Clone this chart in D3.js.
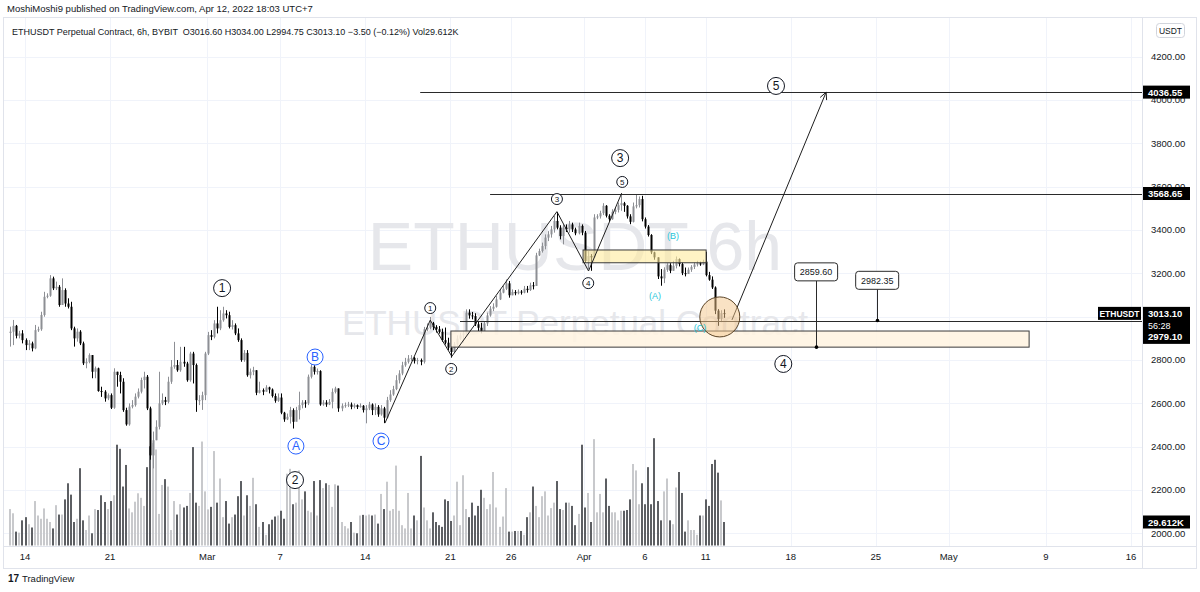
<!DOCTYPE html>
<html><head><meta charset="utf-8">
<script src="https://cdn.jsdelivr.net/npm/d3@7"></script>
<style>
html,body{margin:0;padding:0;background:#fff;}
svg{display:block;font-family:"Liberation Sans",Arial,sans-serif;}
</style></head><body>
<svg id="c" width="1200" height="592"></svg>
<script>
// ---------------- DATA ----------------
const firstOpen = 2925;
const closes = [2931,2958,2912,2923,2892,2869,2877,2854,2938,2942,
3008,3092,3097,3177,3131,3138,3054,3123,3061,3046,
2946,2900,2931,2877,2785,2792,2823,2746,2762,2657,
2654,2623,2638,2580,2746,2731,2700,2569,2503,2585,
2592,2631,2654,2708,2723,2577,2360,2430,2492,2600,
2615,2607,2700,2769,2777,2753,2792,2784,2707,2830,
2777,2615,2615,2638,2830,2915,2907,2969,2946,2984,
3015,3007,2953,2961,2923,2892,2800,2833,2730,2746,
2753,2649,2661,2654,2674,2664,2634,2612,2627,2557,
2526,2538,2569,2515,2569,2592,2604,2600,2723,2769,
2746,2749,2595,2604,2595,2607,2653,2669,2577,2589,
2592,2595,2584,2592,2583,2589,2569,2577,2595,2569,
2584,2549,2577,2534,2615,2641,2666,2707,2738,2776,
2792,2807,2810,2795,2800,2792,2942,2949,2969,2953,
2942,2930,2892,2880,2857,2837,2873,2899,2914,2923,
3019,3006,3003,2965,2949,2934,2969,3006,3037,3046,
3080,3111,3129,3154,3099,3114,3108,3116,3111,3129,
3123,3145,3142,3283,3303,3326,3365,3380,3403,3442,
3411,3372,3411,3403,3426,3403,3385,3419,3388,3257,
3280,3274,3458,3463,3478,3512,3466,3450,3484,3493,
3515,3524,3512,3463,3438,3509,3515,3543,3450,3416,
3377,3297,3274,3186,3177,3217,3238,3212,3235,3266,
3243,3201,3197,3217,3230,3241,3247,3241,3254,3192,
3171,3135,3028,2989,3016.6,3013.1];
const highs = [2954,2985,2962,2935,2938,2900,2892,2885,2962,2954,
3023,3115,3108,3192,3185,3162,3146,3177,3131,3085,
3069,2954,2946,2938,2885,2808,2831,2823,2770,2765,
2677,2661,2646,2646,2762,2746,2746,2716,2580,2600,
2615,2646,2669,2719,2746,2731,2585,2470,2522,2746,
2646,2630,2723,2800,2884,2800,2861,2861,2792,2838,
2838,2784,2638,2654,2838,2930,2938,2984,3046,3030,
3046,3030,3023,2984,2969,2946,2900,2846,2846,2761,
2769,2753,2700,2669,2684,2677,2669,2646,2646,2646,
2561,2553,2584,2577,2584,2654,2615,2615,2733,2784,
2776,2761,2753,2615,2615,2620,2669,2677,2669,2600,
2604,2607,2604,2600,2595,2600,2592,2592,2607,2600,
2600,2592,2592,2584,2630,2661,2681,2730,2753,2792,
2810,2823,2823,2815,2810,2807,2953,2969,2999,2976,
2961,2957,2945,2950,2903,2865,2883,2914,2926,2934,
3034,3034,3022,3016,2976,2972,2980,3019,3049,3062,
3096,3126,3142,3172,3165,3126,3123,3126,3123,3142,
3142,3157,3160,3295,3314,3342,3380,3395,3419,3465,
3483,3422,3426,3426,3442,3434,3411,3434,3426,3396,
3303,3289,3473,3473,3489,3524,3515,3473,3496,3504,
3527,3570,3530,3515,3473,3527,3565,3555,3558,3458,
3423,3381,3300,3274,3220,3228,3247,3247,3258,3278,
3269,3250,3227,3227,3238,3250,3258,3254,3263,3300,
3207,3186,3140,3035,3030,3034];
const lows = [2862,2869,2900,2900,2877,2846,2846,2840,2850,2930,
2935,3000,3085,3092,3123,3123,3046,3069,3046,3038,
2938,2862,2885,2869,2777,2762,2785,2716,2716,2654,
2630,2608,2615,2574,2575,2677,2646,2561,2497,2497,
2577,2585,2623,2646,2669,2569,2340,2300,2430,2480,
2592,2592,2600,2690,2760,2746,2746,2769,2700,2700,
2692,2561,2592,2570,2615,2823,2892,2900,2923,2938,
2977,2992,2946,2941,2915,2884,2792,2792,2723,2715,
2730,2638,2646,2638,2654,2646,2627,2603,2607,2550,
2515,2523,2507,2484,2520,2526,2577,2580,2592,2715,
2733,2733,2589,2589,2584,2592,2577,2646,2561,2564,
2580,2583,2573,2577,2574,2580,2558,2508,2569,2546,
2546,2538,2543,2509,2530,2607,2635,2661,2692,2730,
2769,2784,2795,2784,2780,2776,2784,2933,2942,2938,
2927,2922,2884,2872,2846,2811,2834,2865,2892,2880,
2911,2991,2988,2957,2934,2923,2945,2957,3000,3026,
3042,3077,3108,3123,3088,3099,3099,3103,3102,3108,
3111,3119,3126,3145,3280,3296,3311,3349,3365,3388,
3403,3357,3334,3391,3388,3391,3376,3380,3376,3249,
3219,3212,3274,3450,3453,3469,3458,3438,3447,3473,
3481,3489,3484,3453,3427,3435,3500,3504,3440,3407,
3370,3289,3263,3174,3143,3155,3207,3201,3212,3223,
3232,3192,3186,3201,3207,3220,3232,3235,3238,3186,
3166,3128,3012,2958,2975,2994.75];
const volumesK = [45.9,40.6,17.5,16.2,31.7,35.7,26.8,22.7,56.0,37.8,33.7,
46.7,33.7,29.6,21.5,50.8,39.0,39.0,58.1,78.4,64.1,29.6,33.7,97.4,31.7,19.5,37.8,15.4,45.9,44.7,63.3,54.8,45.9,56.0,63.3,127,121.8,74.3,
101.5,46.7,41.8,55.2,65.8,60.1,49.9,98.7,125,129,121,39.8,76.3,83.6,74.3,19.5,56.0,39.0,52.0,
47.9,49.9,66.2,124,54.0,49.9,131,68.2,45.5,48.7,119,54.0,84.4,35.7,56.0,27.6,35.7,39.0,62.1,81.2,37.8,63.3,49.9,85.3,52.0,23.5,29.6,
13.4,26.8,32.5,36.5,37.8,43.8,33.7,90.5,96.6,52.0,54.0,94.6,58.1,68.2,43.8,41.8,81.2,37.8,82.4,72.3,78.4,76.3,48.7,77.1,75.5,29.6,24.4,21.5,29.6,
16.2,15.4,37.8,38.6,37.8,39.0,
37.8,39.0,27.6,65.0,45.9,80.4,43.8,45.9,100.7,43.8,25.6,21.5,66.2,21.5,37.8,31.7,112.9,47.9,31.7,21.5,41.8,29.6,25.6,23.5,58.1,56.0,30.9,37.8,80.4,25.6,88.5,45.9,35.7,54.0,37.8,49.9,70.2,60.1,45.9,52.0,92.6,47.9,23.5,36.5,72.3,17.5,17.5,18.3,
18.3,18.3,13.4,35.7,41.8,74.3,49.9,35.7,62.1,68.2,37.8,47.1,54.0,81.2,45.9,44.7,54.0,54.0,49.9,25.6,39.8,127,47.9,66.2,29.6,134,41.8,65.0,41.8,84.4,49.9,41.8,41.8,31.7,43.8,
43.8,44.7,58.1,102.7,94.6,52.0,78.4,52.0,98.7,52.0,135.2,56.0,31.7,68.2,84.4,31.7,26.8,
73.1,92.6,66.2,17.5,31.7,19.5,19.5,13.4,37.8,37.8,58.1,49.9,102.7,108,91.8,56.8,29.612];

const priceTicks = [2000,2200,2400,2600,2800,3000,3200,3400,3600,3800,4000,4200];
const timeTickDates = ["2022-02-14","2022-02-21","2022-03-01","2022-03-07","2022-03-14","2022-03-21","2022-03-26","2022-04-01","2022-04-06","2022-04-11","2022-04-18","2022-04-25","2022-05-01","2022-05-09","2022-05-16"];
const timeTickLabels = ["14","21","Mar","7","14","21","26","Apr","6","11","18","25","May","9","16"];

// drawings (candle-slot index, price)
const wavePath = [[123.3,2509],[138.2,2984],[145.3,2817],[179.9,3485],[190.3,3211],[201.2,3570]];
const targetArrow = [[237.5,2985],[268.5,4036.55]];
const hLines = [{p:4036.55,from:134.9},{p:3568.65,from:157.9},{p:2982.35,from:148}];
const zoneBox = {from:145,to:335.3,top:2934,bottom:2859.6};
const yellowBox = {from:188.5,to:229,top:3308,bottom:3249};
const circleMark = {i:233.5,p:2999,r:20};
const bigWaves = [{t:"1",i:69.7,p:3132},{t:"2",i:93.7,p:2246},{t:"3",i:200.7,p:3732},{t:"4",i:254.4,p:2782},{t:"5",i:252.0,p:4065}];
const smallWaves = [{t:"1",i:138.2,p:3040},{t:"2",i:145.1,p:2759},{t:"3",i:179.9,p:3543},{t:"4",i:190.2,p:3155},{t:"5",i:201.4,p:3622}];
const blueWaves = [{t:"A",i:94.0,p:2403},{t:"B",i:100.3,p:2814},{t:"C",i:122.0,p:2426}];
const cyanWaves = [{t:"(A)",i:212.2,p:3096},{t:"(B)",i:218.1,p:3377},{t:"(C)",i:227.0,p:2952}];
const callouts = [{t:"2859.60",i:265.2,p:2859.6,boxP:3207},{t:"2982.35",i:285.3,p:2982.35,boxP:3168}];
const axisBoxes = [{t:"4036.55",p:4036.55},{t:"3568.65",p:3568.65}];

// ---------------- SCALES ----------------
const svg = d3.select('#c');
const t0 = Date.UTC(2022,1,12,19);
const H6 = 6*3600*1000;
const timeOf = i => new Date(t0 + i*H6);
const x = d3.scaleUtc().domain([new Date(Date.UTC(2022,1,14)), new Date(Date.UTC(2022,4,16))]).range([25,1131]);
const xi = i => x(timeOf(i));
const y = d3.scaleLinear().domain([2000,4200]).range([533.4,56.7]);
const yv = d3.scaleLinear().domain([0,29.612]).range([545.5,522]);
const PL=4, PR=1142, PT=18, PB=546;
const ink = '#131722';

// frame
svg.append('rect').attr('x',3.5).attr('y',17.5).attr('width',1193).attr('height',551).attr('fill','#fff').attr('stroke','#e0e3eb');

// clip
svg.append('defs').append('clipPath').attr('id','plot').append('rect').attr('x',PL).attr('y',PT).attr('width',PR-PL).attr('height',PB-PT);
const plot = svg.append('g').attr('clip-path','url(#plot)');

// grid
plot.selectAll('.vg').data(timeTickDates).enter().append('line')
  .attr('x1',d=>Math.round(x(new Date(d+'T00:00:00Z')))+0.5).attr('x2',d=>Math.round(x(new Date(d+'T00:00:00Z')))+0.5)
  .attr('y1',PT).attr('y2',PB).attr('stroke','#f0f3fa');
plot.selectAll('.hg').data(priceTicks).enter().append('line')
  .attr('x1',PL).attr('x2',PR).attr('y1',d=>Math.round(y(d))+0.5).attr('y2',d=>Math.round(y(d))+0.5).attr('stroke','#f0f3fa');

// watermark
plot.append('text').attr('x',575).attr('y',270).attr('text-anchor','middle').attr('font-size',68).attr('fill','#e6e7eb').text('ETHUSDT 6h');
plot.append('text').attr('x',575).attr('y',335).attr('text-anchor','middle').attr('font-size',35).attr('fill','#e6e7eb').text('ETHUSDT Perpetual Contract');

// candle data
const candles = closes.map((c,i)=>({i, o: i===0?firstOpen:closes[i-1], c, h:highs[i], l:lows[i], v:volumesK[i]}));

// volume
plot.selectAll('.vol').data(candles).enter().append('rect')
  .attr('x',d=>Math.round(xi(d.i))-1).attr('width',2)
  .attr('y',d=>yv(d.v)).attr('height',d=>yv(0)-yv(d.v))
  .attr('fill',d=>d.c>=d.o?'#c8c9cc':'#5d5f63');

// candles
const cg = plot.append('g');
cg.selectAll('.wick').data(candles).enter().append('line')
  .attr('x1',d=>Math.round(xi(d.i))+0.5).attr('x2',d=>Math.round(xi(d.i))+0.5)
  .attr('y1',d=>y(d.h)).attr('y2',d=>y(d.l))
  .attr('stroke',d=>d.c>=d.o?'#8d8f94':'#000');
cg.selectAll('.body').data(candles).enter().append('rect')
  .attr('x',d=>Math.round(xi(d.i))-0.5).attr('width',2)
  .attr('y',d=>y(Math.max(d.o,d.c))).attr('height',d=>Math.max(1,Math.abs(y(d.o)-y(d.c))))
  .attr('fill',d=>d.c>=d.o?'#8d8f94':'#000');

// drawings
const dg = plot.append('g');
dg.append('rect').attr('x',xi(zoneBox.from)).attr('y',y(zoneBox.top)).attr('width',xi(zoneBox.to)-xi(zoneBox.from)).attr('height',y(zoneBox.bottom)-y(zoneBox.top))
  .attr('fill','#fff3e0').attr('fill-opacity',0.85).attr('stroke','#3a3a3a').attr('stroke-width',1);
dg.append('rect').attr('x',xi(yellowBox.from)).attr('y',y(yellowBox.top)).attr('width',xi(yellowBox.to)-xi(yellowBox.from)).attr('height',y(yellowBox.bottom)-y(yellowBox.top))
  .attr('fill','#ffeb9c').attr('fill-opacity',0.6).attr('stroke','#3a3a3a').attr('stroke-width',1);
hLines.forEach(h=>{
  dg.append('line').attr('x1',xi(h.from)).attr('x2',PR).attr('y1',Math.round(y(h.p))+0.5).attr('y2',Math.round(y(h.p))+0.5).attr('stroke','#2a2a2a').attr('stroke-width',1);
});
const line = d3.line().x(d=>xi(d[0])).y(d=>y(d[1]));
dg.append('path').attr('d',line(wavePath)).attr('fill','none').attr('stroke','#1e1e1e').attr('stroke-width',1);
dg.append('path').attr('d',line(targetArrow)).attr('fill','none').attr('stroke','#1e1e1e').attr('stroke-width',1);
{
  const [a,b]=targetArrow; const x1=xi(a[0]),y1=y(a[1]),x2=xi(b[0]),y2=y(b[1]);
  const ang=Math.atan2(y2-y1,x2-x1), L=8, w=0.45;
  const p1=[x2-L*Math.cos(ang-w),y2-L*Math.sin(ang-w)], p2=[x2-L*Math.cos(ang+w),y2-L*Math.sin(ang+w)];
  dg.append('path').attr('d',`M${p1}L${x2},${y2}L${p2}`).attr('fill','none').attr('stroke','#1e1e1e');
}
dg.append('circle').attr('cx',xi(circleMark.i)).attr('cy',y(circleMark.p)).attr('r',circleMark.r)
  .attr('fill','#f3c58a').attr('fill-opacity',0.5).attr('stroke','#5a4326').attr('stroke-width',1);

// callouts
callouts.forEach(c=>{
  const cx=xi(c.i), cy=y(c.boxP);
  dg.append('line').attr('x1',Math.round(cx)+0.5).attr('x2',Math.round(cx)+0.5).attr('y1',cy+9).attr('y2',y(c.p)).attr('stroke','#2a2a2a');
  dg.append('circle').attr('cx',Math.round(cx)+0.5).attr('cy',y(c.p)).attr('r',1.8).attr('fill','#000');
  dg.append('rect').attr('x',cx-21.5).attr('y',cy-9).attr('width',43).attr('height',18).attr('rx',3).attr('fill','#fff').attr('stroke','#2a2a2a');
  dg.append('text').attr('x',cx).attr('y',cy+3.3).attr('text-anchor','middle').attr('font-size',9).attr('fill',ink).text(c.t);
});

// wave labels
function circ(g,d,r,fs,col,fill){
  const cx=xi(d.i), cy=y(d.p);
  g.append('circle').attr('cx',cx).attr('cy',cy).attr('r',r).attr('fill',fill).attr('stroke',col).attr('stroke-width',1);
  g.append('text').attr('x',cx).attr('y',cy+fs*0.36).attr('text-anchor','middle').attr('font-size',fs).attr('fill',col).text(d.t);
}
bigWaves.forEach(d=>circ(dg,d,8.5,12,'#131722','#fff'));
smallWaves.forEach(d=>circ(dg,d,5.5,8,'#131722','#fff'));
blueWaves.forEach(d=>circ(dg,d,8,12,'#2962ff','#fff'));
cyanWaves.forEach(d=>{
  dg.append('text').attr('x',xi(d.i)).attr('y',y(d.p)+3.5).attr('text-anchor','middle').attr('font-size',9).attr('fill','#26c6da').text(d.t);
});

// axes separators
svg.append('line').attr('x1',PR+0.5).attr('x2',PR+0.5).attr('y1',PT).attr('y2',568).attr('stroke','#e0e3eb');
svg.append('line').attr('x1',PL).attr('x2',1196).attr('y1',PB+0.5).attr('y2',PB+0.5).attr('stroke','#e0e3eb');

// price axis labels
svg.selectAll('.pl').data(priceTicks).enter().append('text')
  .attr('x',1151).attr('y',d=>y(d)+3.3).attr('font-size',9.5).attr('fill',ink).text(d=>d3.format('.2f')(d));

// time axis labels
svg.selectAll('.tl').data(timeTickDates).enter().append('text')
  .attr('x',d=>x(new Date(d+'T00:00:00Z'))).attr('y',560).attr('text-anchor','middle').attr('font-size',9.5).attr('fill',ink)
  .text((d,k)=>timeTickLabels[k]);

// axis value boxes
axisBoxes.forEach(b=>{
  const cy=y(b.p);
  svg.append('rect').attr('x',1143).attr('y',cy-6.5).attr('width',47).attr('height',13).attr('fill','#000');
  svg.append('text').attr('x',1148).attr('y',cy+3.5).attr('font-size',9.5).attr('font-weight','bold').attr('fill','#fff').text(b.t);
});
// last price block
const lastC = closes[closes.length-1];
svg.append('rect').attr('x',1143).attr('y',y(lastC)-7).attr('width',47).attr('height',37).attr('fill','#000');
svg.append('text').attr('x',1148).attr('y',y(lastC)+3.5).attr('font-size',9.5).attr('font-weight','bold').attr('fill','#fff').text(d3.format('.2f')(lastC));
svg.append('text').attr('x',1148).attr('y',y(lastC)+15).attr('font-size',9).attr('fill','#fff').text('56:28');
svg.append('text').attr('x',1148).attr('y',y(lastC)+26.5).attr('font-size',9.5).attr('font-weight','bold').attr('fill','#fff').text('2979.10');
svg.append('rect').attr('x',1098).attr('y',y(lastC)-7).attr('width',43).attr('height',13).attr('fill','#000');
svg.append('text').attr('x',1119.5).attr('y',y(lastC)+3).attr('text-anchor','middle').attr('font-size',8.5).attr('font-weight','bold').attr('fill','#fff').text('ETHUSDT');
// volume box
const lastV = volumesK[volumesK.length-1];
svg.append('rect').attr('x',1143).attr('y',yv(lastV)-6.5).attr('width',47).attr('height',13).attr('fill','#000');
svg.append('text').attr('x',1148).attr('y',yv(lastV)+3.5).attr('font-size',9.5).attr('font-weight','bold').attr('fill','#fff').text(d3.format('.3f')(lastV)+'K');
// USDT box
svg.append('rect').attr('x',1156.5).attr('y',23.5).attr('width',28).attr('height',14).attr('rx',3).attr('fill','#fff').attr('stroke','#d1d4dc');
svg.append('text').attr('x',1170.5).attr('y',33.5).attr('text-anchor','middle').attr('font-size',8.5).attr('fill',ink).text('USDT');

// header texts
svg.append('text').attr('x',7).attr('y',12).attr('font-size',9.5).attr('fill',ink).text('MoshiMoshi9 published on TradingView.com, Apr 12, 2022 18:03 UTC+7');
const o=closes[closes.length-2], c=lastC, ch=c-o;
svg.append('text').attr('x',12).attr('y',34.5).attr('font-size',9).attr('fill',ink).attr('xml:space','preserve')
  .text(`ETHUSDT Perpetual Contract, 6h, BYBIT  O${d3.format('.2f')(o)} H${d3.format('.2f')(highs[highs.length-1])} L${d3.format('.2f')(lows[lows.length-1])} C${d3.format('.2f')(c)} \u2212${d3.format('.2f')(Math.abs(ch))} (\u2212${d3.format('.2f')(Math.abs(ch)/o*100)}%) Vol${d3.format('.3f')(lastV)}K`);

// footer logo
svg.append('text').attr('x',8).attr('y',582).attr('font-size',10).attr('font-weight','bold').attr('fill',ink).text('17');
svg.append('text').attr('x',22).attr('y',582).attr('font-size',9.5).attr('fill',ink).text('TradingView');
</script>
</body></html>
